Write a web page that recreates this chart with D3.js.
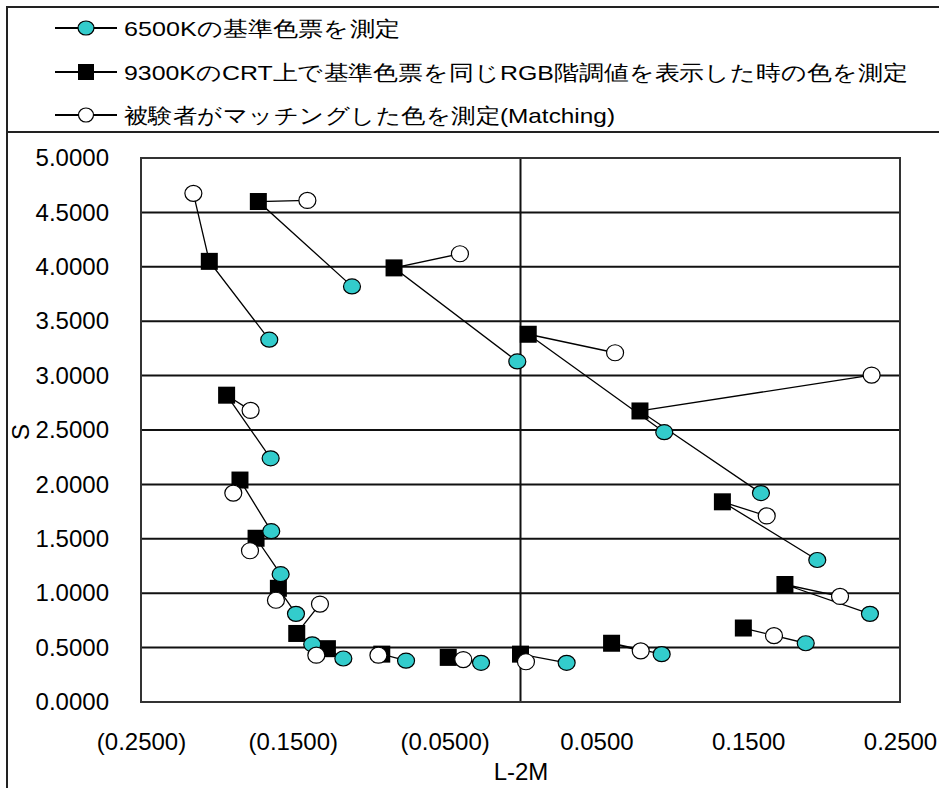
<!DOCTYPE html>
<html>
<head>
<meta charset="utf-8">
<script src="https://cdn.jsdelivr.net/npm/d3@7"></script>
<style>
  body { margin: 0; background: #fff; }
  svg text { font-family: 'Liberation Sans', Arial, sans-serif; fill: #000; }
</style>
</head>
<body>
<svg id="chart"></svg>
<script>
// one entry per colour chip, same order in all three arrays: [L-2M, S]
const ref6500 = [
  [-0.1655, 3.33], [-0.1110, 3.82], [-0.0021, 3.13], [0.0947, 2.48],
  [0.1584, 1.92], [0.1955, 1.305], [0.2302, 0.81], [0.1879, 0.54],
  [0.0930, 0.44], [0.0304, 0.36], [-0.0260, 0.36], [-0.0754, 0.38],
  [-0.1167, 0.40], [-0.1372, 0.53], [-0.1479, 0.81], [-0.1580, 1.175],
  [-0.1642, 1.57], [-0.1646, 2.24]
];
const crt9300 = [
  [-0.2050, 4.05], [-0.1727, 4.60], [-0.0833, 3.99], [0.0051, 3.38],
  [0.0787, 2.675], [0.1330, 1.84], [0.1742, 1.08], [0.1468, 0.68],
  [0.0600, 0.54], [0.0000, 0.44], [-0.0476, 0.41], [-0.0914, 0.44],
  [-0.1272, 0.49], [-0.1474, 0.63], [-0.1595, 1.045], [-0.1742, 1.505],
  [-0.1848, 2.04], [-0.1936, 2.82]
];
const matched = [
  [-0.2155, 4.675], [-0.1404, 4.61], [-0.0399, 4.12], [0.0623, 3.21],
  [0.2313, 3.005], [0.1622, 1.71], [0.2105, 0.97], [0.1670, 0.61],
  [0.0792, 0.47], [0.0036, 0.37], [-0.0377, 0.39], [-0.0936, 0.43],
  [-0.1345, 0.43], [-0.1321, 0.90], [-0.1611, 0.935], [-0.1782, 1.39],
  [-0.1892, 1.92], [-0.1778, 2.68]
];

const xTicks = [-0.25, -0.15, -0.05, 0.05, 0.15, 0.25];
const yTicks = [0, 0.5, 1, 1.5, 2, 2.5, 3, 3.5, 4, 4.5, 5];
const legendLabels = [
  '6500Kの基準色票を測定',
  '9300KのCRT上で基準色票を同じRGB階調値を表示した時の色を測定',
  '被験者がマッチングした色を測定(Matching)'
];
const xTitle = 'L-2M';
const yTitle = 'S';

const width = 939, height = 788;
const cyan = '#33cccc';

const svg = d3.select('#chart')
  .attr('width', width)
  .attr('height', height);

// outer frames: legend box and chart box
svg.append('rect')
  .attr('x', 7).attr('y', 7)
  .attr('width', 960).attr('height', 125)
  .attr('fill', 'none').attr('stroke', '#222').attr('stroke-width', 2);
svg.append('rect')
  .attr('x', 7).attr('y', 132)
  .attr('width', 960).attr('height', 700)
  .attr('fill', 'none').attr('stroke', '#222').attr('stroke-width', 2);

// scales
const x = d3.scaleLinear().domain([-0.25, 0.25]).range([141, 900]);
const y = d3.scaleLinear().domain([0, 5]).range([702, 158]);

const fmt = d => d < 0 ? `(${(-d).toFixed(4)})` : d.toFixed(4);

// gridlines
svg.append('g')
  .selectAll('line')
  .data(yTicks)
  .join('line')
  .attr('x1', x(-0.25)).attr('x2', x(0.25))
  .attr('y1', d => y(d)).attr('y2', d => y(d))
  .attr('stroke', '#111').attr('stroke-width', 2);

// vertical line at 0
svg.append('line')
  .attr('x1', x(0)).attr('x2', x(0))
  .attr('y1', y(5)).attr('y2', y(0))
  .attr('stroke', '#111').attr('stroke-width', 2);

// plot frame
svg.append('rect')
  .attr('x', x(-0.25)).attr('y', y(5))
  .attr('width', x(0.25) - x(-0.25)).attr('height', y(0) - y(5))
  .attr('fill', 'none').attr('stroke', '#333').attr('stroke-width', 2);

// axes
const yAxis = d3.axisLeft(y).tickValues(yTicks).tickSize(0).tickPadding(32).tickFormat(fmt);
const xAxis = d3.axisBottom(x).tickValues(xTicks).tickSize(0).tickPadding(31).tickFormat(fmt);

const yAxisGroup = svg.append('g')
  .attr('transform', `translate(${x(-0.25)},0)`)
  .call(yAxis);
const xAxisGroup = svg.append('g')
  .attr('transform', `translate(0,${y(0)})`)
  .call(xAxis);

[xAxisGroup, yAxisGroup].forEach(g => {
  g.select('.domain').remove();
  g.selectAll('text')
    .attr('font-size', 24)
    .attr('font-family', "'Liberation Sans', Arial, sans-serif")
    .attr('fill', '#000');
});

// axis titles
svg.append('text')
  .attr('x', 521).attr('y', 780)
  .attr('text-anchor', 'middle')
  .attr('font-size', 24)
  .text(xTitle);

svg.append('text')
  .attr('transform', 'translate(29,432) rotate(-90)')
  .attr('text-anchor', 'middle')
  .attr('font-size', 24)
  .text(yTitle);

// connecting lines: 6500K -> 9300K -> matching, per chip
const line = d3.line().x(d => x(d[0])).y(d => y(d[1]));
const groups = ref6500.map((d, i) => [d, crt9300[i], matched[i]]);

svg.append('g')
  .selectAll('path')
  .data(groups)
  .join('path')
  .attr('d', line)
  .attr('fill', 'none')
  .attr('stroke', '#000')
  .attr('stroke-width', 1.3);

// markers
const sq = 17;
svg.append('g')
  .selectAll('rect')
  .data(crt9300)
  .join('rect')
  .attr('x', d => x(d[0]) - sq / 2)
  .attr('y', d => y(d[1]) - sq / 2)
  .attr('width', sq).attr('height', sq)
  .attr('fill', '#000');

svg.append('g')
  .selectAll('ellipse')
  .data(ref6500)
  .join('ellipse')
  .attr('cx', d => x(d[0]))
  .attr('cy', d => y(d[1]))
  .attr('rx', 8.5).attr('ry', 7.5)
  .attr('fill', cyan)
  .attr('stroke', '#000').attr('stroke-width', 1.2);

svg.append('g')
  .selectAll('ellipse')
  .data(matched)
  .join('ellipse')
  .attr('cx', d => x(d[0]))
  .attr('cy', d => y(d[1]))
  .attr('rx', 8.5).attr('ry', 8)
  .attr('fill', '#fff')
  .attr('stroke', '#000').attr('stroke-width', 1.2);

// legend
const legendRows = [28, 72, 115];
const legendWidths = [276, 784, 491];
const legend = svg.append('g');

legendLabels.forEach((label, i) => {
  const ly = legendRows[i];
  legend.append('line')
    .attr('x1', 55).attr('x2', 117)
    .attr('y1', ly).attr('y2', ly)
    .attr('stroke', '#000').attr('stroke-width', 2);

  if (i === 0) {
    legend.append('ellipse')
      .attr('cx', 86).attr('cy', ly).attr('rx', 8).attr('ry', 7)
      .attr('fill', cyan).attr('stroke', '#000').attr('stroke-width', 1.2);
  } else if (i === 1) {
    legend.append('rect')
      .attr('x', 86 - 8).attr('y', ly - 8).attr('width', 16).attr('height', 16)
      .attr('fill', '#000');
  } else {
    legend.append('ellipse')
      .attr('cx', 86).attr('cy', ly).attr('rx', 7.5).attr('ry', 7)
      .attr('fill', '#fff').attr('stroke', '#000').attr('stroke-width', 1.2);
  }

  legend.append('text')
    .attr('x', 124).attr('y', ly)
    .attr('dy', '0.36em')
    .attr('font-family', "'Noto Sans CJK JP', sans-serif")
    .attr('font-size', 21)
    .attr('textLength', legendWidths[i])
    .attr('lengthAdjust', 'spacingAndGlyphs')
    .text(label);
});
</script>
</body>
</html>
